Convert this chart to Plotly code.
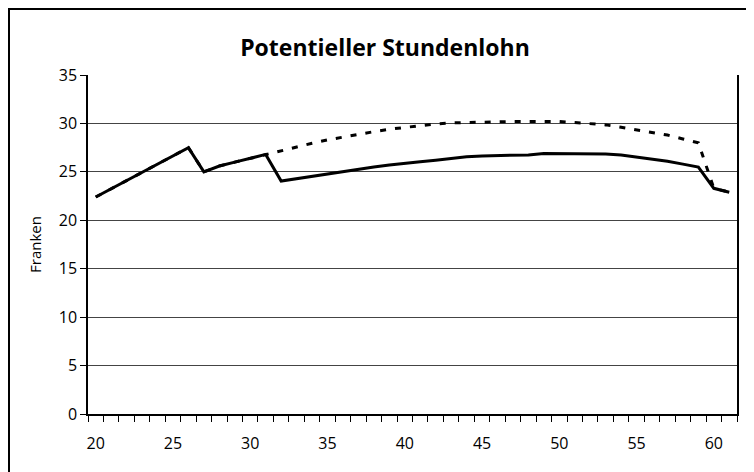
import plotly.graph_objects as go

ages = list(range(20, 62))
actual = [22.4, 23.25, 24.1, 24.95, 25.8, 26.65, 27.5, 25.0, 25.6, 26.0, 26.4, 26.8,
          24.05, 24.3, 24.55, 24.8, 25.05, 25.3, 25.5, 25.7, 25.9, 26.05, 26.2, 26.4,
          26.55, 26.65, 26.7, 26.75, 26.75, 26.9, 26.9, 26.9, 26.9, 26.85, 26.75, 26.55,
          26.35, 26.1, 25.8, 25.5, 23.3, 22.9]
potential = [22.4, 23.25, 24.1, 24.95, 25.8, 26.65, 27.5, 25.0, 25.6, 26.0, 26.4, 26.8,
             27.2, 27.6, 27.95, 28.3, 28.6, 28.9, 29.15, 29.4, 29.6, 29.8, 29.95, 30.05,
             30.1, 30.15, 30.2, 30.2, 30.2, 30.2, 30.2, 30.1, 30.0, 29.85, 29.6, 29.35,
             29.05, 28.8, 28.4, 28.0, 23.3, 22.9]
xlabels = [20, 25, 30, 35, 40, 45, 50, 55, 60]
yticks = [0, 5, 10, 15, 20, 25, 30, 35]

# page body has an 8px margin, so work in figure coordinates (window - 8)
OFF = 8
W, H = 754 - OFF, 472 - OFF
L, R, T, B = 88 - OFF, 737 - OFF, 75 - OFF, 414 - OFF
pw, ph = R - L, B - T

def px(x):
    return (x - L) / pw

def py(y):
    return (B - y) / ph

fig = go.Figure()
fig.add_trace(go.Scatter(x=ages, y=potential, mode="lines",
                         line=dict(color="black", width=3, dash="6px,9px"),
                         showlegend=False))
fig.add_trace(go.Scatter(x=ages, y=actual, mode="lines",
                         line=dict(color="black", width=3),
                         showlegend=False))

font = "Open Sans, Noto Sans, sans-serif"
fig.update_layout(
    width=W, height=H,
    margin=dict(l=L, r=W - R, t=T, b=H - B),
    paper_bgcolor="white", plot_bgcolor="white",
    font=dict(family=font, color="black", size=16),
    title=dict(text="<b>Potentieller Stundenlohn</b>", x=(385 - OFF) / W, xref="container",
               y=1 - (48 - OFF) / H, yref="container", xanchor="center", yanchor="middle",
               font=dict(size=23, family=font, color="black")),
    xaxis=dict(range=[19.5, 61.5], tickvals=xlabels, ticktext=[str(v) for v in xlabels],
               ticks="outside", ticklen=14, tickcolor="rgba(0,0,0,0)",
               showgrid=False, zeroline=False,
               showline=True, linecolor="black", linewidth=2, mirror=False,
               minor=dict(tick0=19.5, dtick=1, ticks="outside", ticklen=6,
                          tickcolor="black", tickwidth=1, showgrid=False),
               tickfont=dict(size=16)),
    yaxis=dict(range=[0, 35], tickvals=yticks, ticks="outside", ticklen=6,
               tickcolor="black", showgrid=True, gridcolor="#444444", gridwidth=1,
               zeroline=False, showline=True, linecolor="black", linewidth=1.5,
               mirror=True,
               title=dict(text="Franken", font=dict(size=15), standoff=14),
               tickfont=dict(size=16)),
    shapes=[dict(type="rect", xref="paper", yref="paper",
                 x0=px(1), x1=px(W + 20), y0=py(H + 20), y1=py(1),
                 line=dict(color="black", width=2), layer="above")],
)

fig.write_html("out.html")
